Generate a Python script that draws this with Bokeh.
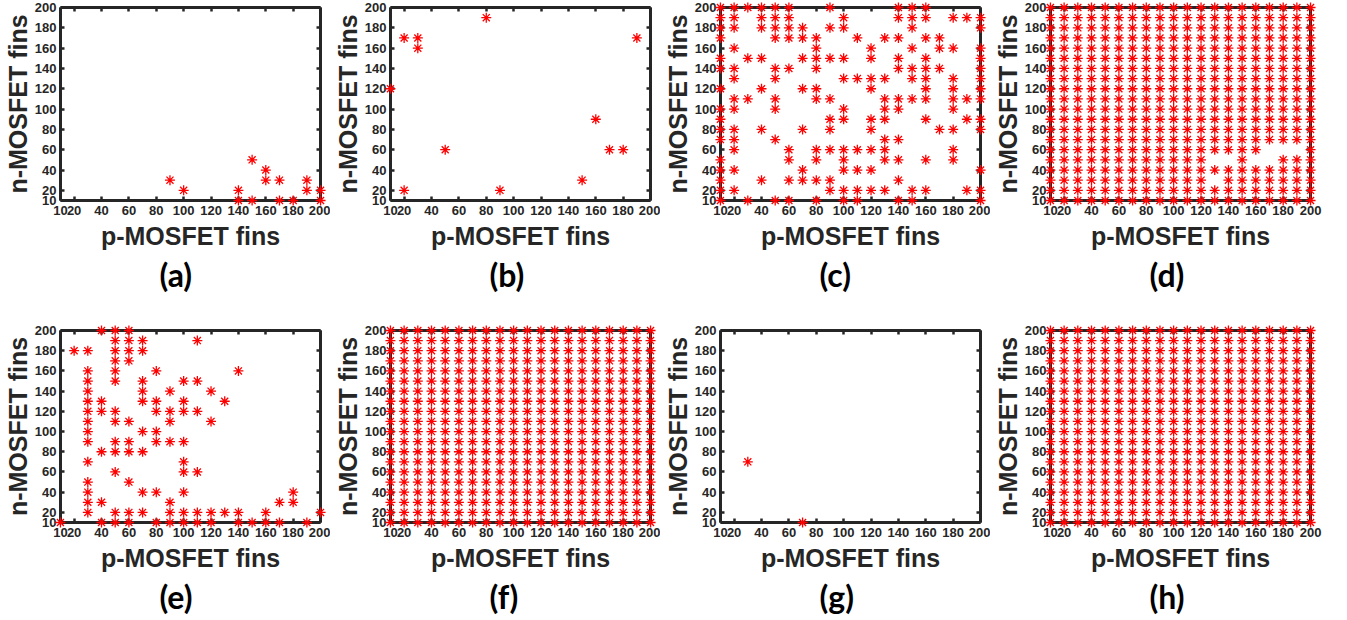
from bokeh.plotting import figure
from bokeh.models import FixedTicker, LinearAxis, Range1d, Title
from bokeh.layouts import column, row
from bokeh.embed import file_html
from bokeh.resources import INLINE

# ---------------- data ----------------
FINS = [10, 20, 30, 40, 50, 60, 70, 80, 90, 100, 110, 120, 130, 140, 150, 160, 170, 180, 190, 200]
TICKS = [10, 20, 40, 60, 80, 100, 120, 140, 160, 180, 200]
X_TITLE = "p-MOSFET fins"
Y_TITLE = "n-MOSFET fins"
LABELS = ["(a)", "(b)", "(c)", "(d)", "(e)", "(f)", "(g)", "(h)"]

a_p = [90, 100, 140, 140, 150, 150, 160, 160, 170, 170, 180, 190, 190, 200, 200]
a_n = [30, 20, 20, 10, 50, 10, 40, 30, 30, 10, 10, 30, 20, 20, 10]

b_p = [10, 20, 20, 30, 30, 50, 80, 90, 150, 160, 170, 180, 190]
b_n = [120, 170, 20, 170, 160, 60, 190, 20, 30, 90, 60, 60, 170]

# panel (c): p-fin values present for each n-fin value
c_rows = {
    200: [10, 20, 30, 40, 50, 60, 90, 140, 150, 160],
    190: [10, 20, 40, 50, 60, 100, 140, 150, 160, 180, 190, 200],
    180: [10, 20, 40, 50, 60, 70, 90, 100, 150, 200],
    170: [10, 50, 60, 70, 80, 110, 130, 140, 160, 170],
    160: [20, 80, 120, 150, 170, 180, 200],
    150: [10, 30, 40, 70, 80, 90, 100, 120, 140, 160, 200],
    140: [10, 20, 50, 60, 80, 140, 150, 160, 170, 200],
    130: [20, 50, 100, 110, 120, 130, 150, 160, 180, 200],
    120: [10, 40, 70, 80, 120, 160, 180, 200],
    110: [20, 30, 50, 80, 90, 130, 140, 150, 160, 180, 190, 200],
    100: [10, 20, 50, 100, 130, 140, 180],
    90: [10, 90, 100, 120, 130, 160, 190, 200],
    80: [10, 20, 40, 70, 90, 120, 170, 180, 200],
    70: [10, 20, 50, 130, 140],
    60: [20, 60, 80, 90, 100, 110, 120, 130, 180],
    50: [10, 60, 80, 100, 130, 140, 160, 180],
    40: [10, 20, 70, 100, 110, 120, 200],
    30: [10, 40, 60, 70, 80, 90, 140],
    20: [10, 20, 90, 100, 110, 120, 130, 150, 160, 190, 200],
    10: [10, 30, 50, 60, 80, 100, 110, 140, 150, 200],
}

# panel (d): full grid except these points
d_missing_p = [130, 140, 130, 160, 170, 170, 180, 190]
d_missing_n = [50, 50, 30, 50, 50, 60, 60, 60]

# panel (e)
e_rows = {
    200: [40, 50, 60],
    190: [50, 60, 70, 110],
    180: [20, 30, 50, 60, 70],
    170: [50, 60],
    160: [30, 50, 80, 140],
    150: [30, 50, 70, 100, 110],
    140: [30, 70, 90, 120],
    130: [30, 40, 70, 80, 100, 130],
    120: [30, 40, 50, 80, 90, 100, 110],
    110: [30, 50, 60, 90, 120],
    100: [30, 70, 80],
    90: [30, 50, 60, 80, 90, 100],
    80: [40, 50, 60, 70],
    70: [30, 100],
    60: [50, 100, 110],
    50: [30, 60],
    40: [30, 70, 80, 100, 180],
    30: [30, 40, 90, 170, 180],
    20: [30, 50, 60, 70, 90, 100, 110, 120, 130, 140, 160, 200],
    10: [10, 40, 50, 60, 80, 90, 100, 110, 120, 140, 150, 160, 170, 190],
}

g_p = [30, 70]
g_n = [70, 10]


def from_rows(rows):
    ps, ns = [], []
    for n, plist in rows.items():
        for p in plist:
            ps.append(p)
            ns.append(n)
    return ps, ns


def full_grid(missing_p=(), missing_n=()):
    miss = set(zip(missing_p, missing_n))
    ps, ns = [], []
    for p in FINS:
        for n in FINS:
            if (p, n) not in miss:
                ps.append(p)
                ns.append(n)
    return ps, ns


c_p, c_n = from_rows(c_rows)
d_p, d_n = full_grid(d_missing_p, d_missing_n)
e_p, e_n = from_rows(e_rows)
f_p, f_n = full_grid()
h_p, h_n = full_grid()

# ---------------- styling / layout ----------------
INK = "#262626"
LO, HI = FINS[0], FINS[-1]
PAD = 6            # px of free space between box and frame edge (markers overhang)
BOX_W = 263        # box width in px
WIDTHS = [330, 330, 330, 357]


def label_axis(ax):
    """Axis at the frame edge: tick labels + title only."""
    ax.ticker = FixedTicker(ticks=TICKS)
    ax.axis_line_color = None
    ax.major_tick_line_color = None
    ax.minor_tick_line_color = None
    ax.major_tick_in = 0
    ax.major_tick_out = 0
    ax.major_label_text_font = "Liberation Sans"
    ax.major_label_text_font_style = "bold"
    ax.major_label_text_font_size = "13px"
    ax.major_label_text_color = INK
    ax.axis_label_text_font = "Liberation Sans"
    ax.axis_label_text_font_style = "bold"
    ax.axis_label_text_font_size = "25px"
    ax.axis_label_text_color = INK


def box_axis(loc):
    """Axis drawn exactly on the data box: thick line + inward ticks, no labels."""
    ax = LinearAxis(ticker=FixedTicker(ticks=TICKS))
    ax.fixed_location = loc
    ax.bounds = (LO, HI)
    ax.axis_line_width = 3
    ax.axis_line_color = INK
    ax.major_tick_in = 4
    ax.major_tick_out = 0
    ax.major_tick_line_width = 2.5
    ax.major_tick_line_color = INK
    ax.minor_tick_line_color = None
    ax.major_label_text_color = None
    ax.major_label_text_font_size = "1px"
    ax.major_label_standoff = 0
    return ax


def make_panel(ps, ns, label, col, height, box_h, top, bottom):
    frame_w = BOX_W + 2 * PAD
    px = (HI - LO) * PAD / BOX_W
    py = (HI - LO) * PAD / box_h
    left = 51
    right = WIDTHS[col] - left - frame_w
    f = figure(width=WIDTHS[col], height=height,
               x_range=Range1d(LO - px, HI + px), y_range=Range1d(LO - py, HI + py),
               output_backend="svg", toolbar_location=None, title=None,
               min_border_left=left, min_border_right=right,
               min_border_top=top, min_border_bottom=bottom,
               x_axis_label=X_TITLE, y_axis_label=Y_TITLE)
    r = f.scatter(ps, ns, marker="asterisk", size=10, line_color="red", line_width=1.3)
    r.level = "overlay"
    f.xgrid.visible = False
    f.ygrid.visible = False
    f.outline_line_color = None
    f.background_fill_color = "white"
    f.border_fill_color = "white"

    label_axis(f.xaxis[0])
    label_axis(f.yaxis[0])
    f.xaxis[0].major_label_standoff = -1
    f.xaxis[0].axis_label_standoff = 4
    f.yaxis[0].major_label_standoff = -2
    f.yaxis[0].axis_label_standoff = 0

    f.add_layout(box_axis(LO), "below")
    f.add_layout(box_axis(LO), "left")
    f.add_layout(box_axis(HI), "right")
    f.add_layout(box_axis(HI), "above")

    f.add_layout(Title(text=label, align="left", offset=105, standoff=0,
                       text_font="Lato", text_font_size="32px",
                       text_font_style="bold", text_color="black"), "below")
    return f


# row 1: box from y=7 to y=200 ; row 2: box from y=330 to y=522 (page coords)
row1 = [
    make_panel(a_p, a_n, LABELS[0], 0, 300, 193, 1, 94),
    make_panel(b_p, b_n, LABELS[1], 1, 300, 193, 1, 94),
    make_panel(c_p, c_n, LABELS[2], 2, 300, 193, 1, 94),
    make_panel(d_p, d_n, LABELS[3], 3, 300, 193, 1, 94),
]
row2 = [
    make_panel(e_p, e_n, LABELS[4], 0, 320, 192, 24, 92),
    make_panel(f_p, f_n, LABELS[5], 1, 320, 192, 24, 92),
    make_panel(g_p, g_n, LABELS[6], 2, 320, 192, 24, 92),
    make_panel(h_p, h_n, LABELS[7], 3, 320, 192, 24, 92),
]

layout = column(row(*row1), row(*row2))
open("out.html", "w").write(file_html(layout, INLINE))
